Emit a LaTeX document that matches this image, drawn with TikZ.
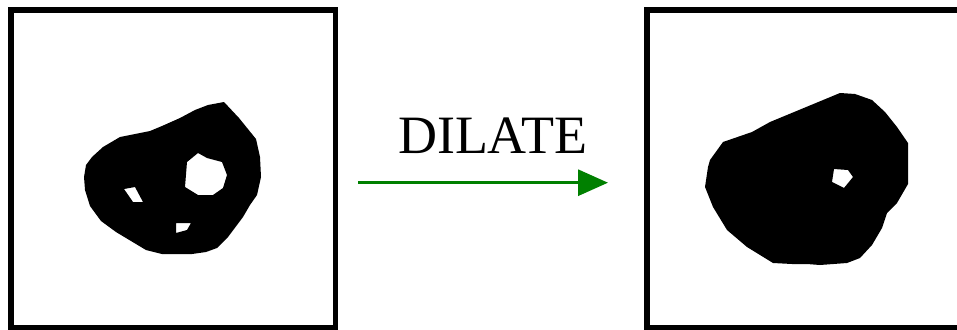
\documentclass[tikz,border=0pt]{standalone}
\usepackage{fontspec}
\setmainfont{Liberation Serif}
\usetikzlibrary{arrows.meta}

\begin{document}
\begin{tikzpicture}[
      x=1pt, y=-1pt, >={Triangle[length=30pt, width=26pt]},
      frame/.style={draw, line width=5.5pt},
      blob/.style={fill=black, even odd rule},
      every node/.style={font=\fontsize{54}{62}\selectfont}]

      \useasboundingbox (0,0) rectangle (957,329);
      % image frames
      \draw[frame] (11,10) rectangle (335.5,327.7);
      \draw[frame] (647,10) rectangle (985,327.7);

      % input shape, with its holes
      \fill[blob] (224,102) -- (239,118) -- (256,139) -- (260,157) -- (261,177) -- (257,195)
        -- (250,205) -- (243,217) -- (228,237) -- (217,248) -- (206,252) -- (192,254)
        -- (162,254) -- (146,250) -- (116,232) -- (101,221) -- (90,206) -- (85,190)
        -- (84,177) -- (86,165) -- (92,157) -- (103,147) -- (120,137) -- (150,131)
        -- (162,126) -- (180,118) -- (195,110) -- (208,105) -- cycle
        (198,153) -- (207,158) -- (222,162) -- (227,175) -- (223,188) -- (213,195)
        -- (198,195) -- (185,187) -- (187,162) -- cycle
        (124,189) -- (135,187) -- (143,202) -- (133,202) -- cycle
        (176,223) -- (191,223) -- (187,230) -- (176,233) -- cycle;

      % dilated shape
      \fill[blob] (840,93) -- (855,94) -- (872,100) -- (885,112) -- (897,127) -- (908,143)
        -- (908,184) -- (897,203) -- (887,213) -- (882,228) -- (872,245) -- (860,258)
        -- (847,263) -- (820,265) -- (807,264) -- (792,264) -- (773,263) -- (747,247)
        -- (727,230) -- (713,207) -- (705,187) -- (708,167) -- (710,160) -- (723,142)
        -- (752,132) -- (770,122) -- cycle
        (834,169) -- (848,170) -- (853,177) -- (844,188) -- (832,182) -- cycle;

      % operation
      \coordinate (src) at (358,182.7);
      \coordinate (dst) at (608,182.7);
      \draw[->, line width=3pt, green!50!black] (src) -- (dst);
      \node[anchor=base, inner sep=0pt] (op) at (492.5,153) {DILATE};
    \end{tikzpicture}
\end{document}
